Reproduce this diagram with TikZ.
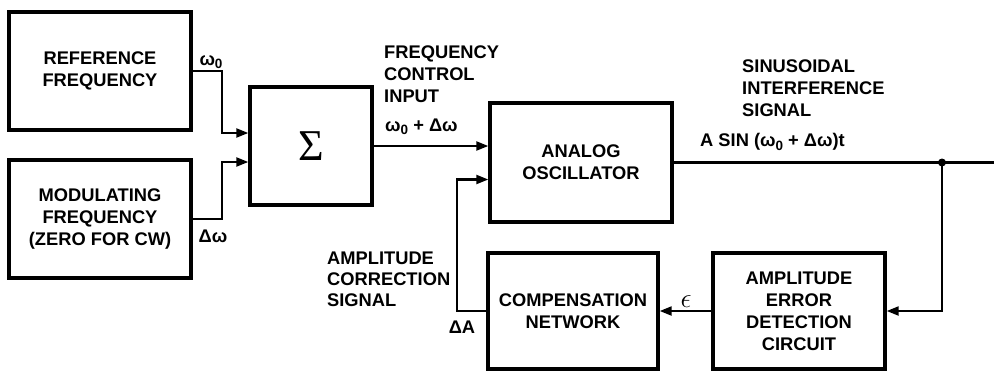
\documentclass[tikz,border=0pt]{standalone}
\usepackage{fontspec}
\setmainfont{Liberation Sans}
\newfontfamily\sigmafont{Liberation Serif}
\usetikzlibrary{arrows.meta,calc}
\tikzset{
  blk/.style={draw, line width=3.4pt, align=center, inner sep=0pt,
    font=\fontsize{18.3}{22}\selectfont\bfseries},
  wire/.style={line width=2.2pt},
  arr/.style={wire, -{Triangle[length=12pt,width=9pt]}},
  lbl/.style={inner sep=0pt, align=left, font=\fontsize{18.3}{22}\selectfont\bfseries},
}
\newcommand{\wz}{ω\lower3.5pt\hbox{\fontsize{13.5}{13.5}\selectfont 0}}
\begin{document}
\begin{tikzpicture}[x=1pt,y=-1pt]
\useasboundingbox (0,0) rectangle (994,373);
% blocks
\node[blk, minimum width=182pt, minimum height=118pt] (ref) at (100,71) {REFERENCE\\FREQUENCY};
\node[blk, minimum width=182pt, minimum height=118pt] (mod) at (100,219) {MODULATING\\FREQUENCY\\(ZERO FOR CW)};
\node[blk, minimum width=122pt, minimum height=118pt] (sum) at (311,146) {\sigmafont\fontsize{44}{44}\selectfont\mdseries Σ};
\node[blk, minimum width=182pt, minimum height=119pt] (osc) at (581,162.5) {ANALOG\\OSCILLATOR};
\node[blk, minimum width=170pt, minimum height=116pt] (comp) at (573,311) {COMPENSATION\\NETWORK};
\node[blk, minimum width=172pt, minimum height=116pt] (err) at (799,311) {AMPLITUDE\\ERROR\\DETECTION\\CIRCUIT};
% junction and output end
\coordinate (jn) at (942,162.5);
\coordinate (outend) at (994,162.5);
% connectors
\draw[arr] (ref.east) -- +(29,0) |- ([yshift=13pt]sum.west);
\draw[arr] (mod.east) -- +(29,0) |- ([yshift=-16pt]sum.west);
\draw[arr] (sum.east) -- (sum.east -| osc.west);
\draw[wire] (osc.east) -- (outend);
\fill (jn) circle (4pt);
\draw[arr] (jn) |- (err.east);
\draw[arr] (err.west) -- (comp.east);
\draw[arr] (comp.west) -- +(-29,0) |- ([yshift=-17pt]osc.west);
% labels
\node[lbl] (l1) at (211,62) {\wz};
\node[lbl] (l2) at (213,236) {Δω};
\node[lbl, anchor=west] (l3) at (384,74) {FREQUENCY\\CONTROL\\INPUT};
\node[lbl, anchor=west] (l4) at (385,127) {\wz\ + Δω};
\node[lbl, anchor=west] (l5) at (742,88) {SINUSOIDAL\\INTERFERENCE\\SIGNAL};
\node[lbl, anchor=west] (l6) at (700,142) {A SIN (\wz\ + Δω)t};
\node[lbl, anchor=west, font=\fontsize{18.3}{21}\selectfont\bfseries] (l7) at (327,279) {AMPLITUDE\\CORRECTION\\SIGNAL};
\node[lbl] (l8) at (462,327) {ΔA};
\node[lbl] (l9) at (686,302) {\scalebox{1.6}{$\epsilon$}};
\end{tikzpicture}
\end{document}
